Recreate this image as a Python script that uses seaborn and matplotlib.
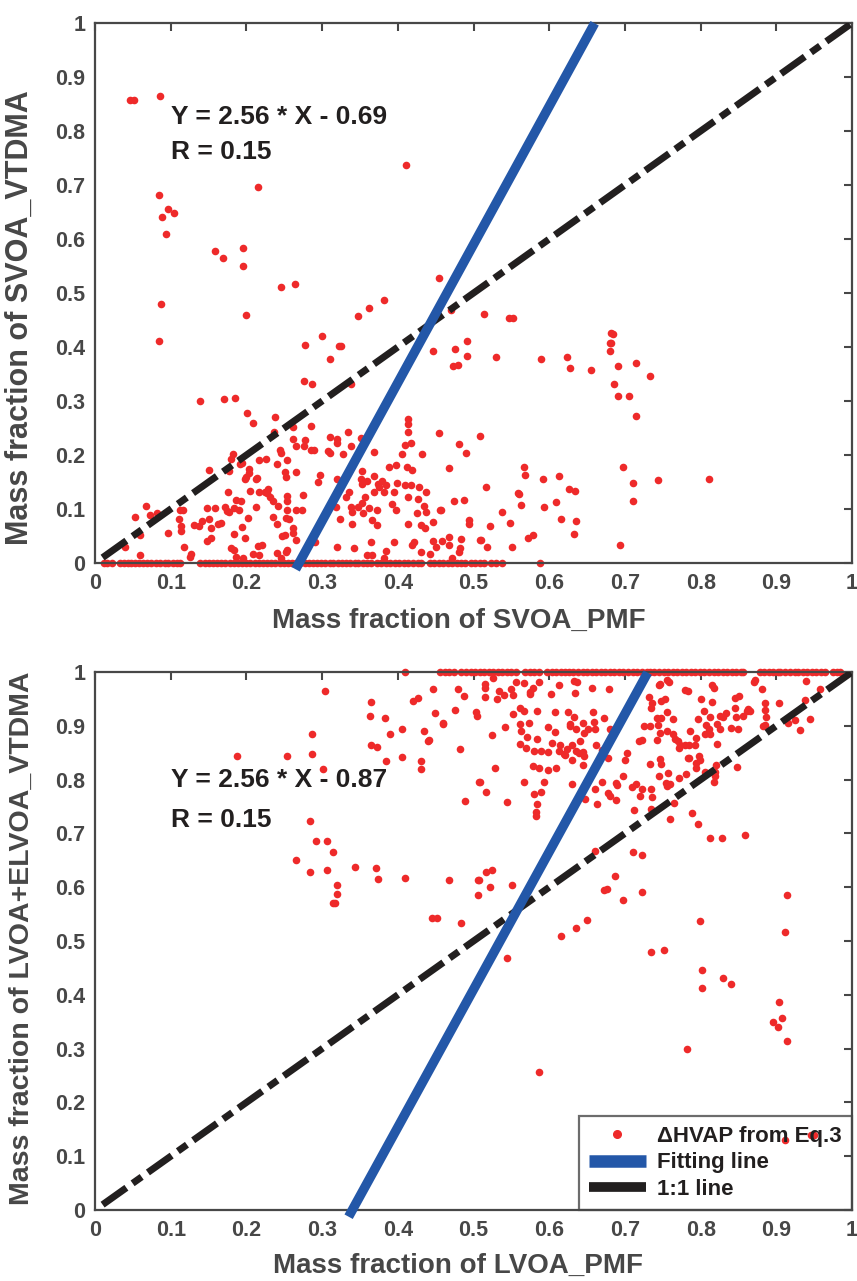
import numpy as np
import pandas as pd
import seaborn as sns
import matplotlib.pyplot as plt
from matplotlib.lines import Line2D

# ---- top panel: SVOA ----
svoa_pmf = [
    0.046, 0.051, 0.086, 0.411, 0.215, 0.085, 0.096, 0.104, 0.089, 0.094, 0.158, 0.169, 0.195, 0.196, 0.246, 0.264, 0.454, 0.382,
    0.087, 0.085, 0.199, 0.348, 0.362, 0.470, 0.277, 0.300, 0.322, 0.325, 0.310, 0.276, 0.287, 0.338, 0.447, 0.475, 0.473, 0.480, 0.491, 0.491,
    0.139, 0.170, 0.185, 0.201, 0.209, 0.238, 0.236, 0.262, 0.285, 0.262, 0.278, 0.276, 0.266, 0.285, 0.289, 0.310, 0.308, 0.310, 0.319, 0.319,
    0.334, 0.338, 0.328, 0.351, 0.369, 0.414, 0.414, 0.414, 0.409, 0.418, 0.405, 0.432, 0.454, 0.481, 0.490, 0.508, 0.244, 0.245, 0.182, 0.180,
    0.194, 0.192, 0.217, 0.226, 0.240, 0.253,
    0.177, 0.150, 0.204, 0.203, 0.199, 0.198, 0.214, 0.213, 0.251, 0.252, 0.266, 0.297, 0.295, 0.352, 0.320, 0.351, 0.352, 0.359, 0.369, 0.379,
    0.374, 0.375, 0.385, 0.388, 0.398, 0.399, 0.409, 0.412, 0.419, 0.418, 0.428, 0.437, 0.468,
    0.176, 0.205, 0.217, 0.225, 0.229, 0.227, 0.231, 0.235, 0.186, 0.193, 0.190, 0.148, 0.158, 0.172, 0.174, 0.184, 0.177, 0.212, 0.242, 0.254,
    0.254, 0.253, 0.252, 0.256, 0.265, 0.273, 0.275, 0.318, 0.324, 0.320, 0.335, 0.332, 0.338, 0.339, 0.340, 0.348, 0.353, 0.357, 0.354, 0.362,
    0.372, 0.366, 0.373, 0.369, 0.382, 0.392, 0.398, 0.395, 0.414, 0.414, 0.427, 0.425, 0.434, 0.437, 0.431, 0.436, 0.456, 0.446, 0.487, 0.494,
    0.494,
    0.112, 0.116, 0.111, 0.113, 0.113, 0.096, 0.067, 0.073, 0.053, 0.082, 0.059, 0.040, 0.059, 0.131, 0.137, 0.141, 0.150, 0.153, 0.162, 0.167,
    0.153, 0.148, 0.183, 0.198, 0.194, 0.202, 0.235, 0.241, 0.262, 0.262, 0.247, 0.251, 0.266, 0.118, 0.127, 0.125, 0.179, 0.184, 0.215, 0.221,
    0.217, 0.209, 0.186, 0.196, 0.240, 0.253, 0.252, 0.246, 0.290, 0.319, 0.342, 0.365, 0.359, 0.366, 0.385, 0.395, 0.382, 0.419, 0.421, 0.431,
    0.442, 0.447, 0.450, 0.467, 0.467, 0.471, 0.483, 0.482, 0.481, 0.508,
    0.514, 0.547, 0.552, 0.530, 0.589, 0.624, 0.628, 0.655, 0.682, 0.684, 0.680, 0.681, 0.680, 0.691, 0.715, 0.733, 0.685, 0.691, 0.706, 0.714,
    0.474, 0.516, 0.567, 0.568, 0.559, 0.560, 0.563, 0.592, 0.593, 0.613, 0.609, 0.626, 0.634, 0.616, 0.635, 0.633, 0.538, 0.548, 0.522, 0.457,
    0.572, 0.578, 0.510, 0.518, 0.551, 0.458, 0.697, 0.711, 0.711, 0.744, 0.811, 0.693,
]
svoa_vtdma = [
    0.857, 0.857, 0.865, 0.738, 0.696, 0.681, 0.655, 0.648, 0.640, 0.609, 0.577, 0.564, 0.584, 0.550, 0.512, 0.517, 0.528, 0.488,
    0.480, 0.412, 0.460, 0.458, 0.472, 0.469, 0.404, 0.420, 0.401, 0.402, 0.377, 0.337, 0.331, 0.331, 0.393, 0.396, 0.365, 0.366, 0.412, 0.383,
    0.300, 0.304, 0.306, 0.278, 0.259, 0.271, 0.242, 0.252, 0.253, 0.229, 0.227, 0.216, 0.217, 0.209, 0.210, 0.234, 0.207, 0.204, 0.230, 0.222,
    0.243, 0.216, 0.201, 0.232, 0.206, 0.266, 0.258, 0.242, 0.219, 0.223, 0.201, 0.201, 0.240, 0.220, 0.203, 0.236, 0.210, 0.204, 0.201, 0.193,
    0.185, 0.183, 0.190, 0.193, 0.184, 0.190,
    0.170, 0.173, 0.174, 0.166, 0.160, 0.155, 0.157, 0.155, 0.169, 0.160, 0.169, 0.163, 0.150, 0.170, 0.156, 0.155, 0.147, 0.151, 0.162, 0.152,
    0.147, 0.141, 0.145, 0.177, 0.181, 0.148, 0.145, 0.178, 0.172, 0.145, 0.140, 0.131, 0.176,
    0.131, 0.133, 0.132, 0.132, 0.137, 0.129, 0.123, 0.114, 0.117, 0.114, 0.098, 0.102, 0.101, 0.103, 0.097, 0.101, 0.094, 0.103, 0.106, 0.114,
    0.124, 0.098, 0.084, 0.082, 0.098, 0.098, 0.126, 0.104, 0.082, 0.131, 0.131, 0.122, 0.104, 0.094, 0.072, 0.103, 0.111, 0.122, 0.092, 0.101,
    0.098, 0.080, 0.070, 0.131, 0.131, 0.110, 0.099, 0.131, 0.123, 0.072, 0.118, 0.092, 0.106, 0.095, 0.070, 0.064, 0.098, 0.076, 0.116, 0.080,
    0.073,
    0.099, 0.098, 0.081, 0.068, 0.059, 0.055, 0.105, 0.088, 0.085, 0.092, 0.051, 0.030, 0.014, 0.070, 0.069, 0.078, 0.081, 0.064, 0.073, 0.075,
    0.046, 0.041, 0.053, 0.047, 0.067, 0.083, 0.086, 0.072, 0.064, 0.055, 0.050, 0.052, 0.043, 0.030, 0.017, 0.012, 0.027, 0.024, 0.032, 0.033,
    0.014, 0.017, 0.012, 0.010, 0.019, 0.024, 0.021, 0.010, 0.039, 0.030, 0.028, 0.038, 0.015, 0.015, 0.023, 0.038, 0.009, 0.034, 0.038, 0.021,
    0.017, 0.040, 0.030, 0.048, 0.033, 0.010, 0.044, 0.027, 0.021, 0.042,
    0.462, 0.454, 0.454, 0.382, 0.378, 0.381, 0.362, 0.357, 0.426, 0.425, 0.408, 0.407, 0.392, 0.365, 0.370, 0.346, 0.332, 0.310, 0.310, 0.273,
    0.115, 0.140, 0.177, 0.163, 0.129, 0.127, 0.107, 0.155, 0.103, 0.162, 0.113, 0.137, 0.134, 0.081, 0.078, 0.053, 0.094, 0.074, 0.068, 0.099,
    0.046, 0.051, 0.042, 0.030, 0.029, 0.041, 0.178, 0.149, 0.114, 0.154, 0.155, 0.034,
]
# samples sitting on SVOA_VTDMA = 0
svoa_pmf_at_zero = [
    0.012, 0.016, 0.022, 0.033, 0.038, 0.043, 0.048, 0.053, 0.058, 0.063, 0.068, 0.074, 0.080, 0.086, 0.092, 0.097, 0.103, 0.108, 0.112,
    0.139, 0.145, 0.150, 0.156, 0.161, 0.167, 0.172, 0.178, 0.183, 0.189, 0.194, 0.200, 0.205, 0.211, 0.216, 0.222, 0.227, 0.233, 0.238,
    0.244, 0.249, 0.255, 0.260, 0.266, 0.271, 0.277, 0.282, 0.288, 0.293, 0.299, 0.304, 0.310, 0.315, 0.321, 0.326, 0.332, 0.337, 0.343,
    0.348, 0.354, 0.359, 0.365, 0.372, 0.378, 0.384, 0.390, 0.396, 0.402, 0.408, 0.414, 0.420, 0.426, 0.431, 0.442, 0.448, 0.454, 0.460,
    0.466, 0.472, 0.478, 0.484, 0.489, 0.496, 0.502, 0.508, 0.514, 0.523, 0.530, 0.538, 0.588,
]

# ---- bottom panel: LVOA ----
lvoa_pmf = [
    0.304, 0.365, 0.363, 0.383, 0.389, 0.405, 0.420, 0.426, 0.446, 0.449, 0.460, 0.434, 0.440, 0.441, 0.479, 0.488, 0.476, 0.503, 0.504, 0.482,
    0.364, 0.372, 0.384, 0.406, 0.431, 0.431, 0.287, 0.287, 0.254, 0.187, 0.301, 0.507, 0.489, 0.284, 0.292, 0.307, 0.314, 0.265, 0.284, 0.307,
    0.343, 0.371, 0.374, 0.409, 0.468, 0.506, 0.506, 0.320, 0.319, 0.315, 0.317, 0.445, 0.452, 0.483,
    0.460, 0.515, 0.515, 0.515, 0.526, 0.531, 0.533, 0.540, 0.549, 0.552, 0.556, 0.567, 0.574, 0.579, 0.586, 0.575, 0.552, 0.541, 0.524, 0.561,
    0.567, 0.573, 0.561, 0.563, 0.571, 0.561, 0.569, 0.584, 0.584, 0.580, 0.589, 0.598, 0.599, 0.603, 0.607, 0.607, 0.602, 0.613, 0.614, 0.613,
    0.623, 0.621, 0.619, 0.625, 0.627, 0.627, 0.633, 0.636, 0.630, 0.630, 0.635, 0.639, 0.645, 0.646, 0.644, 0.641, 0.645, 0.646, 0.651, 0.633,
    0.637, 0.634, 0.656, 0.658, 0.659, 0.660, 0.662, 0.670, 0.673, 0.679, 0.680, 0.677, 0.697, 0.700, 0.703, 0.670, 0.660, 0.663, 0.678, 0.680,
    0.688, 0.690, 0.688, 0.647, 0.630, 0.593, 0.567, 0.580, 0.589, 0.584, 0.583, 0.583, 0.586, 0.579, 0.599, 0.609, 0.529, 0.508, 0.516, 0.544,
    0.709, 0.714, 0.722, 0.720, 0.734, 0.736, 0.712, 0.735, 0.719, 0.723, 0.725, 0.733, 0.733, 0.732, 0.736, 0.735, 0.748, 0.753, 0.745, 0.746,
    0.755, 0.758, 0.742, 0.748, 0.744, 0.746, 0.743, 0.756, 0.763, 0.756, 0.763, 0.766, 0.770, 0.771, 0.746, 0.747, 0.745, 0.757, 0.754, 0.759,
    0.756, 0.772, 0.765, 0.760, 0.783, 0.785, 0.798, 0.799, 0.794, 0.794, 0.781, 0.779, 0.784, 0.793, 0.773, 0.780, 0.783, 0.800, 0.815, 0.818,
    0.786, 0.796, 0.804, 0.794, 0.806, 0.813, 0.811, 0.807, 0.812, 0.815, 0.821, 0.826, 0.825, 0.821, 0.830, 0.834, 0.806, 0.819, 0.817, 0.819,
    0.817, 0.820, 0.789, 0.797, 0.813, 0.828, 0.859, 0.840, 0.850, 0.845, 0.847, 0.856, 0.861, 0.865, 0.863, 0.845, 0.851, 0.848, 0.870, 0.872,
    0.881, 0.885, 0.885, 0.886, 0.883, 0.885, 0.903, 0.916, 0.925, 0.931, 0.939, 0.938, 0.944, 0.958,
    0.507, 0.517, 0.525, 0.522, 0.551, 0.616, 0.636, 0.650, 0.660, 0.673, 0.676, 0.687, 0.698, 0.711, 0.722, 0.722, 0.799, 0.914, 0.912,
    0.544, 0.587, 0.734, 0.752, 0.782, 0.802, 0.802, 0.829, 0.840, 0.904, 0.895, 0.902, 0.908, 0.914, 0.946, 0.950, 0.912,
]
lvoa_elvoa_vtdma = [
    0.965, 0.945, 0.919, 0.915, 0.885, 0.894, 0.947, 0.951, 0.969, 0.924, 0.903, 0.890, 0.872, 0.873, 0.968, 0.955, 0.929, 0.925, 0.919, 0.857,
    0.864, 0.860, 0.835, 0.842, 0.835, 0.820, 0.884, 0.848, 0.844, 0.843, 0.820, 0.796, 0.761, 0.724, 0.686, 0.686, 0.665, 0.650, 0.628, 0.632,
    0.638, 0.635, 0.615, 0.618, 0.614, 0.614, 0.585, 0.604, 0.588, 0.571, 0.570, 0.542, 0.542, 0.534,
    0.905, 0.977, 0.971, 0.953, 0.989, 0.949, 0.964, 0.957, 0.968, 0.958, 0.982, 0.979, 0.962, 0.970, 0.981, 0.960, 0.922, 0.898, 0.882, 0.934,
    0.928, 0.906, 0.903, 0.891, 0.879, 0.867, 0.858, 0.875, 0.927, 0.853, 0.853, 0.851, 0.898, 0.868, 0.888, 0.925, 0.960, 0.975, 0.865, 0.854,
    0.856, 0.845, 0.847, 0.926, 0.900, 0.903, 0.917, 0.895, 0.865, 0.836, 0.853, 0.849, 0.852, 0.843, 0.827, 0.872, 0.906, 0.886, 0.895, 0.983,
    0.982, 0.961, 0.971, 0.925, 0.908, 0.895, 0.865, 0.855, 0.915, 0.968, 0.894, 0.841, 0.807, 0.836, 0.849, 0.796, 0.782, 0.754, 0.776, 0.770,
    0.794, 0.790, 0.762, 0.764, 0.792, 0.796, 0.796, 0.774, 0.777, 0.755, 0.739, 0.732, 0.821, 0.826, 0.817, 0.821, 0.822, 0.795, 0.777, 0.758,
    0.787, 0.792, 0.782, 0.770, 0.782, 0.768, 0.743, 0.746, 0.872, 0.873, 0.899, 0.899, 0.829, 0.954, 0.943, 0.934, 0.947, 0.949, 0.975, 0.977,
    0.985, 0.981, 0.915, 0.914, 0.902, 0.887, 0.873, 0.926, 0.912, 0.890, 0.884, 0.876, 0.872, 0.859, 0.838, 0.829, 0.807, 0.813, 0.794, 0.792,
    0.788, 0.803, 0.757, 0.727, 0.840, 0.841, 0.843, 0.836, 0.821, 0.830, 0.810, 0.865, 0.865, 0.865, 0.865, 0.967, 0.964, 0.949, 0.975, 0.971,
    0.891, 0.913, 0.927, 0.877, 0.885, 0.884, 0.895, 0.901, 0.917, 0.944, 0.867, 0.919, 0.894, 0.903, 0.917, 0.923, 0.814, 0.814, 0.795, 0.806,
    0.812, 0.827, 0.738, 0.718, 0.691, 0.692, 0.697, 0.896, 0.894, 0.934, 0.917, 0.919, 0.927, 0.928, 0.931, 0.952, 0.956, 0.824, 0.981, 0.985,
    0.968, 0.942, 0.929, 0.917, 0.900, 0.902, 0.943, 0.906, 0.910, 0.892, 0.983, 0.948, 0.913, 0.968,
    0.613, 0.629, 0.632, 0.600, 0.604, 0.510, 0.524, 0.539, 0.667, 0.594, 0.596, 0.620, 0.576, 0.666, 0.660, 0.592, 0.537, 0.585, 0.517,
    0.468, 0.257, 0.479, 0.484, 0.299, 0.446, 0.412, 0.432, 0.420, 0.386, 0.349, 0.341, 0.356, 0.315, 0.139, 0.139, 0.130,
]
# samples sitting on LVOA+ELVOA_VTDMA = 1
lvoa_pmf_at_one = [
    0.410, 0.456, 0.462, 0.468, 0.474, 0.484, 0.490, 0.496, 0.502, 0.508, 0.514, 0.520, 0.526, 0.532, 0.538, 0.544, 0.550, 0.556,
    0.568, 0.574, 0.580, 0.586, 0.597, 0.603, 0.609, 0.615, 0.621, 0.626, 0.632, 0.638, 0.644, 0.650, 0.656, 0.662, 0.668, 0.674,
    0.680, 0.686, 0.692, 0.698, 0.704, 0.710, 0.716, 0.722, 0.729, 0.733, 0.739, 0.745, 0.751, 0.757, 0.763, 0.769, 0.775, 0.781,
    0.787, 0.793, 0.799, 0.805, 0.811, 0.817, 0.823, 0.829, 0.835, 0.841, 0.847, 0.853, 0.856, 0.878, 0.884, 0.890, 0.896, 0.902,
    0.905, 0.911, 0.918, 0.925, 0.929, 0.935, 0.941, 0.947, 0.953, 0.959, 0.964, 0.975, 0.980, 0.984,
]

# fit results printed on each panel
fit_slope = [2.56, 2.56]
fit_intercept = [-0.69, -0.87]
fit_r = [0.15, 0.15]
fit_x_range = [(0.265, 0.66), (0.335, 0.73)]

tick_values = [0, 0.1, 0.2, 0.3, 0.4, 0.5, 0.6, 0.7, 0.8, 0.9, 1]
tick_labels = ["0", "0.1", "0.2", "0.3", "0.4", "0.5", "0.6", "0.7", "0.8", "0.9", "1"]

sns.set_theme(style="white")
plt.rcParams['font.family'] = ['Liberation Sans', 'DejaVu Sans']
plt.rcParams['font.weight'] = 'bold'

GREY = '#474747'
RED = '#ee2a2a'
BLUE = '#2357a8'
BLACK = '#221f1f'

top_df = pd.DataFrame({"x": svoa_pmf + svoa_pmf_at_zero,
                       "y": svoa_vtdma + [0.0] * len(svoa_pmf_at_zero)})
bot_df = pd.DataFrame({"x": lvoa_pmf + lvoa_pmf_at_one,
                       "y": lvoa_elvoa_vtdma + [1.0] * len(lvoa_pmf_at_one)})

fig = plt.figure(figsize=(8.57, 12.81), dpi=100)
ax_top = fig.add_axes([0.1109, 0.5605, 0.8833, 0.4215])
ax_bot = fig.add_axes([0.1109, 0.0554, 0.8833, 0.42])


def draw_panel(ax, df, i, xlabel, ylabel, ylab_size, ylab_y, text_y, xlab_y):
    sns.scatterplot(data=df, x="x", y="y", ax=ax, color=RED, s=30,
                    linewidth=0, clip_on=False, zorder=2)
    ax.plot([0.01, 1], [0.01, 1], color=BLACK, lw=5, dashes=(4.2, 1.1, 1.6, 1.1),
            zorder=3)
    fx = np.array(fit_x_range[i])
    ax.plot(fx, fit_slope[i] * fx + fit_intercept[i], color=BLUE, lw=6.8,
            clip_on=False, zorder=4, solid_capstyle='butt')

    ax.set_xlim(0, 1)
    ax.set_ylim(0, 1)
    ax.set_xticks(tick_values, tick_labels)
    ax.set_yticks(tick_values, tick_labels)
    ax.tick_params(direction='in', top=True, right=True, length=6, width=1.5,
                   color=GREY, labelcolor=GREY, labelsize=15.5, pad=7)
    for lab in ax.get_xticklabels() + ax.get_yticklabels():
        lab.set_fontweight('bold')
    for sp in ax.spines.values():
        sp.set_color(GREY)
        sp.set_linewidth(1.6)

    ax.set_xlabel(xlabel, fontsize=20, fontweight='bold', color=GREY)
    ax.set_ylabel(ylabel, fontsize=ylab_size, fontweight='bold', color=GREY)
    ax.xaxis.set_label_coords(0.48, xlab_y)
    ax.yaxis.set_label_coords(-0.079, ylab_y)

    sign = '-' if fit_intercept[i] < 0 else '+'
    ax.text(0.101, text_y[0],
            f"Y = {fit_slope[i]:.2f} * X {sign} {abs(fit_intercept[i]):.2f}",
            fontsize=19, fontweight='bold', color=BLACK, va='center')
    ax.text(0.101, text_y[1], f"R = {fit_r[i]:.2f}",
            fontsize=19, fontweight='bold', color=BLACK, va='center')


draw_panel(ax_top, top_df, 0, "Mass fraction of SVOA_PMF",
           "Mass fraction of SVOA_VTDMA", 22, 0.455, (0.826, 0.762), -0.083)
draw_panel(ax_bot, bot_df, 1, "Mass fraction of LVOA_PMF",
           "Mass fraction of LVOA+ELVOA_VTDMA", 20.5, 0.505, (0.799, 0.725), -0.080)

handles = [
    Line2D([], [], marker='o', ls='none', color=RED, markersize=5.5),
    Line2D([], [], color=BLUE, lw=9, solid_capstyle='butt'),
    Line2D([], [], color=BLACK, lw=7, solid_capstyle='butt'),
]
leg = ax_bot.legend(handles, ["ΔHVAP from Eq.3", "Fitting line", "1:1 line"],
                    loc='lower right', bbox_to_anchor=(1, 0), borderaxespad=0,
                    fancybox=False, fontsize=16, labelspacing=0.25,
                    handlelength=2.6, handletextpad=0.5, borderpad=0.45)
leg.get_frame().set_facecolor('none')
leg.get_frame().set_edgecolor(GREY)
leg.get_frame().set_linewidth(1.6)
for t in leg.get_texts():
    t.set_color(BLACK)
    t.set_fontweight('bold')

fig.savefig("out.png", dpi=100)
